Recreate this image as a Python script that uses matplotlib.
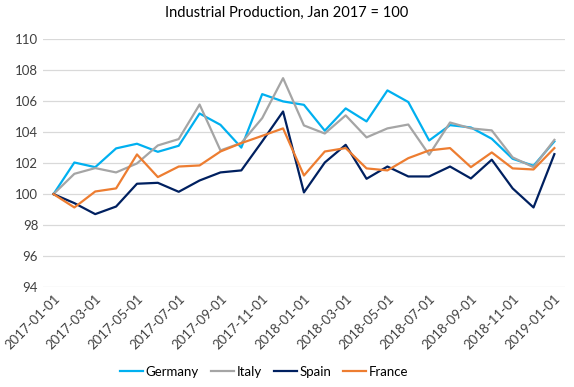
import matplotlib
matplotlib.use("Agg")
import matplotlib.pyplot as plt
import numpy as np
import pandas as pd

plt.rcParams['font.family'] = ['Lato', 'DejaVu Sans']

dates = pd.date_range("2017-01-01", "2019-01-01", freq="MS")
labels = [d.strftime("%Y-%m-%d") for d in dates]

germany = [100, 102.04, 101.74, 102.95, 103.25, 102.73, 103.12, 105.2, 104.47, 103.0,
           106.45, 105.98, 105.76, 104.09, 105.53, 104.69, 106.69, 105.94, 103.46, 104.45,
           104.3, 103.57, 102.28, 101.83, 103.4]
italy = [100, 101.31, 101.68, 101.4, 101.98, 103.14, 103.55, 105.78, 102.82, 103.3,
         104.9, 107.48, 104.43, 103.91, 105.08, 103.66, 104.24, 104.49, 102.54, 104.62,
         104.24, 104.11, 102.37, 101.74, 103.5]
spain = [100, 99.42, 98.71, 99.2, 100.67, 100.73, 100.15, 100.88, 101.4, 101.53,
         103.4, 105.33, 100.11, 102.04, 103.18, 100.99, 101.78, 101.14, 101.14, 101.78,
         101.01, 102.22, 100.37, 99.14, 102.58]
france = [100, 99.14, 100.17, 100.37, 102.56, 101.1, 101.78, 101.85, 102.75, 103.29,
          103.76, 104.24, 101.2, 102.75, 102.97, 101.66, 101.53, 102.32, 102.82, 102.97,
          101.74, 102.69, 101.66, 101.59, 102.97]

series = [("Germany", germany, "#00B0F0"),
          ("Italy", italy, "#A5A5A5"),
          ("Spain", spain, "#002060"),
          ("France", france, "#ED7D31")]

fig = plt.figure(figsize=(5.74, 3.87), dpi=100)
ax = fig.add_axes([0.075, 0.258, 0.909, 0.641])
x = np.arange(len(dates))
for name, vals, col in series:
    ax.plot(x, vals, color=col, lw=1.6, label=name, solid_joinstyle='round')

ax.set_xlim(-0.5, len(dates) - 0.5)
ax.set_ylim(94, 110)
ax.set_yticks(np.arange(94, 111, 2))
ax.set_xticks(x[::2])
ax.set_xticklabels(labels[::2], rotation=45, ha='right', rotation_mode='anchor')
ax.tick_params(axis='both', length=0, labelsize=9.5, colors='#404040')
ax.tick_params(axis='x', pad=4)
ax.grid(axis='y', color='#D9D9D9', lw=0.9)
ax.set_axisbelow(True)
for s in ax.spines.values():
    s.set_visible(False)

fig.suptitle("Industrial Production, Jan 2017 = 100", y=0.985, fontsize=10.5, color='#000000')
fig.legend(loc='center', ncol=4, frameon=False, fontsize=9.5,
           bbox_to_anchor=(0.46, 0.039), handlelength=1.75, columnspacing=0.9,
           handletextpad=0.2, borderpad=0.1)
fig.savefig("out.png", dpi=100)
